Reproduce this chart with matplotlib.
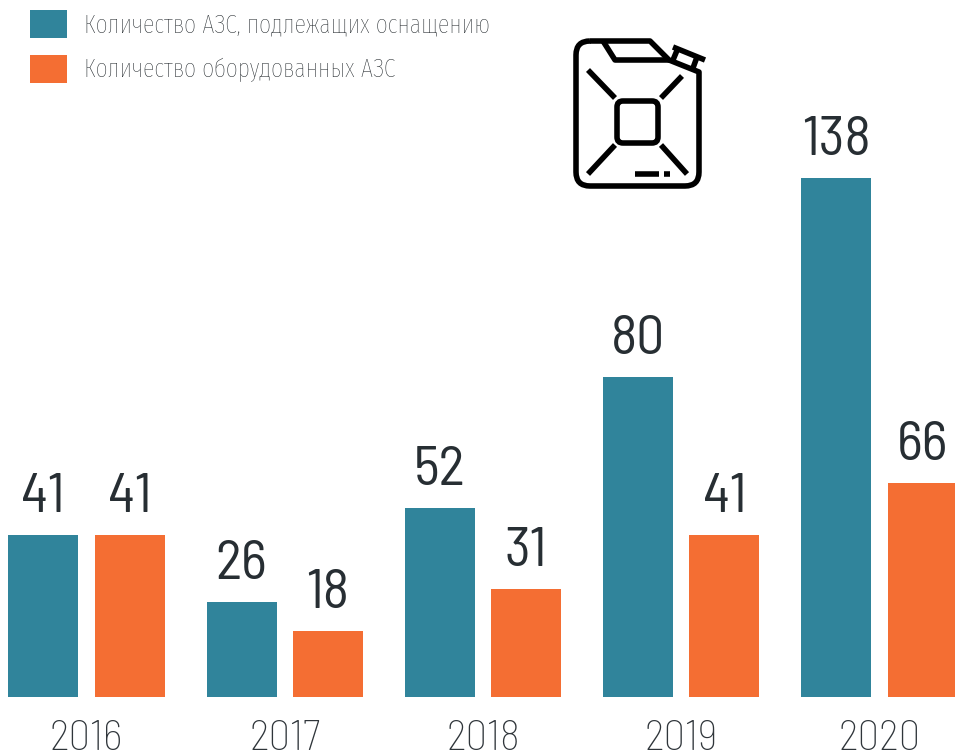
"""Bar chart of filling stations to be equipped vs equipped, 2016-2020."""

import matplotlib

matplotlib.use("Agg")
import matplotlib.pyplot as plt
import numpy as np
from matplotlib.font_manager import FontProperties
from matplotlib.patches import FancyBboxPatch, PathPatch
from matplotlib.path import Path

NUM_FONT = ["Barlow Semi Condensed", "Roboto", "DejaVu Sans"]
LEGEND_FONT = ["Fira Sans Extra Condensed", "Roboto", "DejaVu Sans"]
BLUE, ORANGE, DARK, GREY = "#30849B", "#F46E33", "#272E33", "#22282C"

years = ["2016", "2017", "2018", "2019", "2020"]
planned = [41, 26, 52, 80, 138]
equipped = [41, 18, 31, 41, 66]
series_names = ["Количество АЗС, подлежащих оснащению", "Количество оборудованных АЗС"]

# the source bars are not drawn in proportion to their values, so the y axis
# is calibrated against the bar lengths measured on the picture
scale_values = [0, 18, 26, 31, 41, 52, 66, 80, 138, 190]
scale_lengths = [0, 66, 95, 108, 162, 189, 214, 320, 519, 696.5]


def forward(v):
    return np.interp(v, scale_values, scale_lengths)


def inverse(v):
    return np.interp(v, scale_lengths, scale_values)


W, H, BASE = 955, 751, 696.5
fig = plt.figure(figsize=(W / 100, H / 100), dpi=100)
ax = fig.add_axes([0, (H - BASE) / H, 1, BASE / H])
ax.set_yscale("function", functions=(forward, inverse))
ax.set_ylim(0, 190)
ax.set_xlim(-86.5 / 198.25, (W - 86.5) / 198.25)

x = np.arange(len(years))
width, off = 70 / 198.25, 43.2 / 198.25
bars_a = ax.bar(x - off, planned, width, color=BLUE, label=series_names[0])
bars_b = ax.bar(x + off, equipped, width, color=ORANGE, label=series_names[1])

for bars in (bars_a, bars_b):
    for b in bars:
        ax.annotate(
            str(int(b.get_height())),
            (b.get_x() + b.get_width() / 2, b.get_height()),
            xytext=(0, 16.5),
            textcoords="offset points",
            ha="center",
            va="baseline",
            fontsize=40,
            family=NUM_FONT,
            color=DARK,
        )

ax.set_xticks(x, years)
ax.tick_params(axis="x", length=0, pad=17)
for t in ax.get_xticklabels():
    t.set(fontsize=31, family=NUM_FONT, weight="light", color="#2F353A")
ax.yaxis.set_visible(False)
for s in ax.spines.values():
    s.set_visible(False)
ax.patch.set_alpha(0)

fig.legend(
    loc="upper left",
    bbox_to_anchor=(30 / W, 1 - 10 / H),
    borderaxespad=0,
    borderpad=0,
    frameon=False,
    prop=FontProperties(family=LEGEND_FONT, weight="light", size=18.6),
    labelcolor=GREY,
    handlelength=1.43,
    handleheight=1.286,
    handletextpad=0.656,
    labelspacing=0.656,
)

# canister icon, overlay in pixel coordinates
icon = fig.add_axes([0, 0, 1, 1])
icon.set_xlim(0, W)
icon.set_ylim(H, 0)
icon.axis("off")
M, L, C = Path.MOVETO, Path.LINETO, Path.CURVE3
body = Path(
    [(590, 41), (650, 41), (669, 60), (699, 72), (699, 172), (699, 186), (685, 186),
     (590, 186), (576, 186), (576, 172), (576, 55), (576, 41), (590, 41)],
    [M, L, L, L, L, C, C, L, C, C, L, C, C],
)
icon.add_patch(PathPatch(body, fc="none", ec="black", lw=4, joinstyle="round"))
icon.add_patch(FancyBboxPatch((624, 108), 27, 28, boxstyle="round,pad=7,rounding_size=6",
                              fc="none", ec="black", lw=4))
for xs, ys in [
    ([603, 615, 669], [41, 60, 60]),
    ([673, 705], [47, 60]),
    ([678, 673], [48, 60]),
    ([697, 693], [57, 68]),
    ([588, 615], [70, 98]),
    ([682, 661], [76, 98]),
    ([615, 588], [145, 174]),
    ([661, 687], [145, 174]),
    ([635, 659], [174, 174]),
    ([664, 670], [174, 174]),
]:
    icon.plot(xs, ys, color="black", lw=4, solid_capstyle="butt")

fig.savefig("out.png", dpi=100)
